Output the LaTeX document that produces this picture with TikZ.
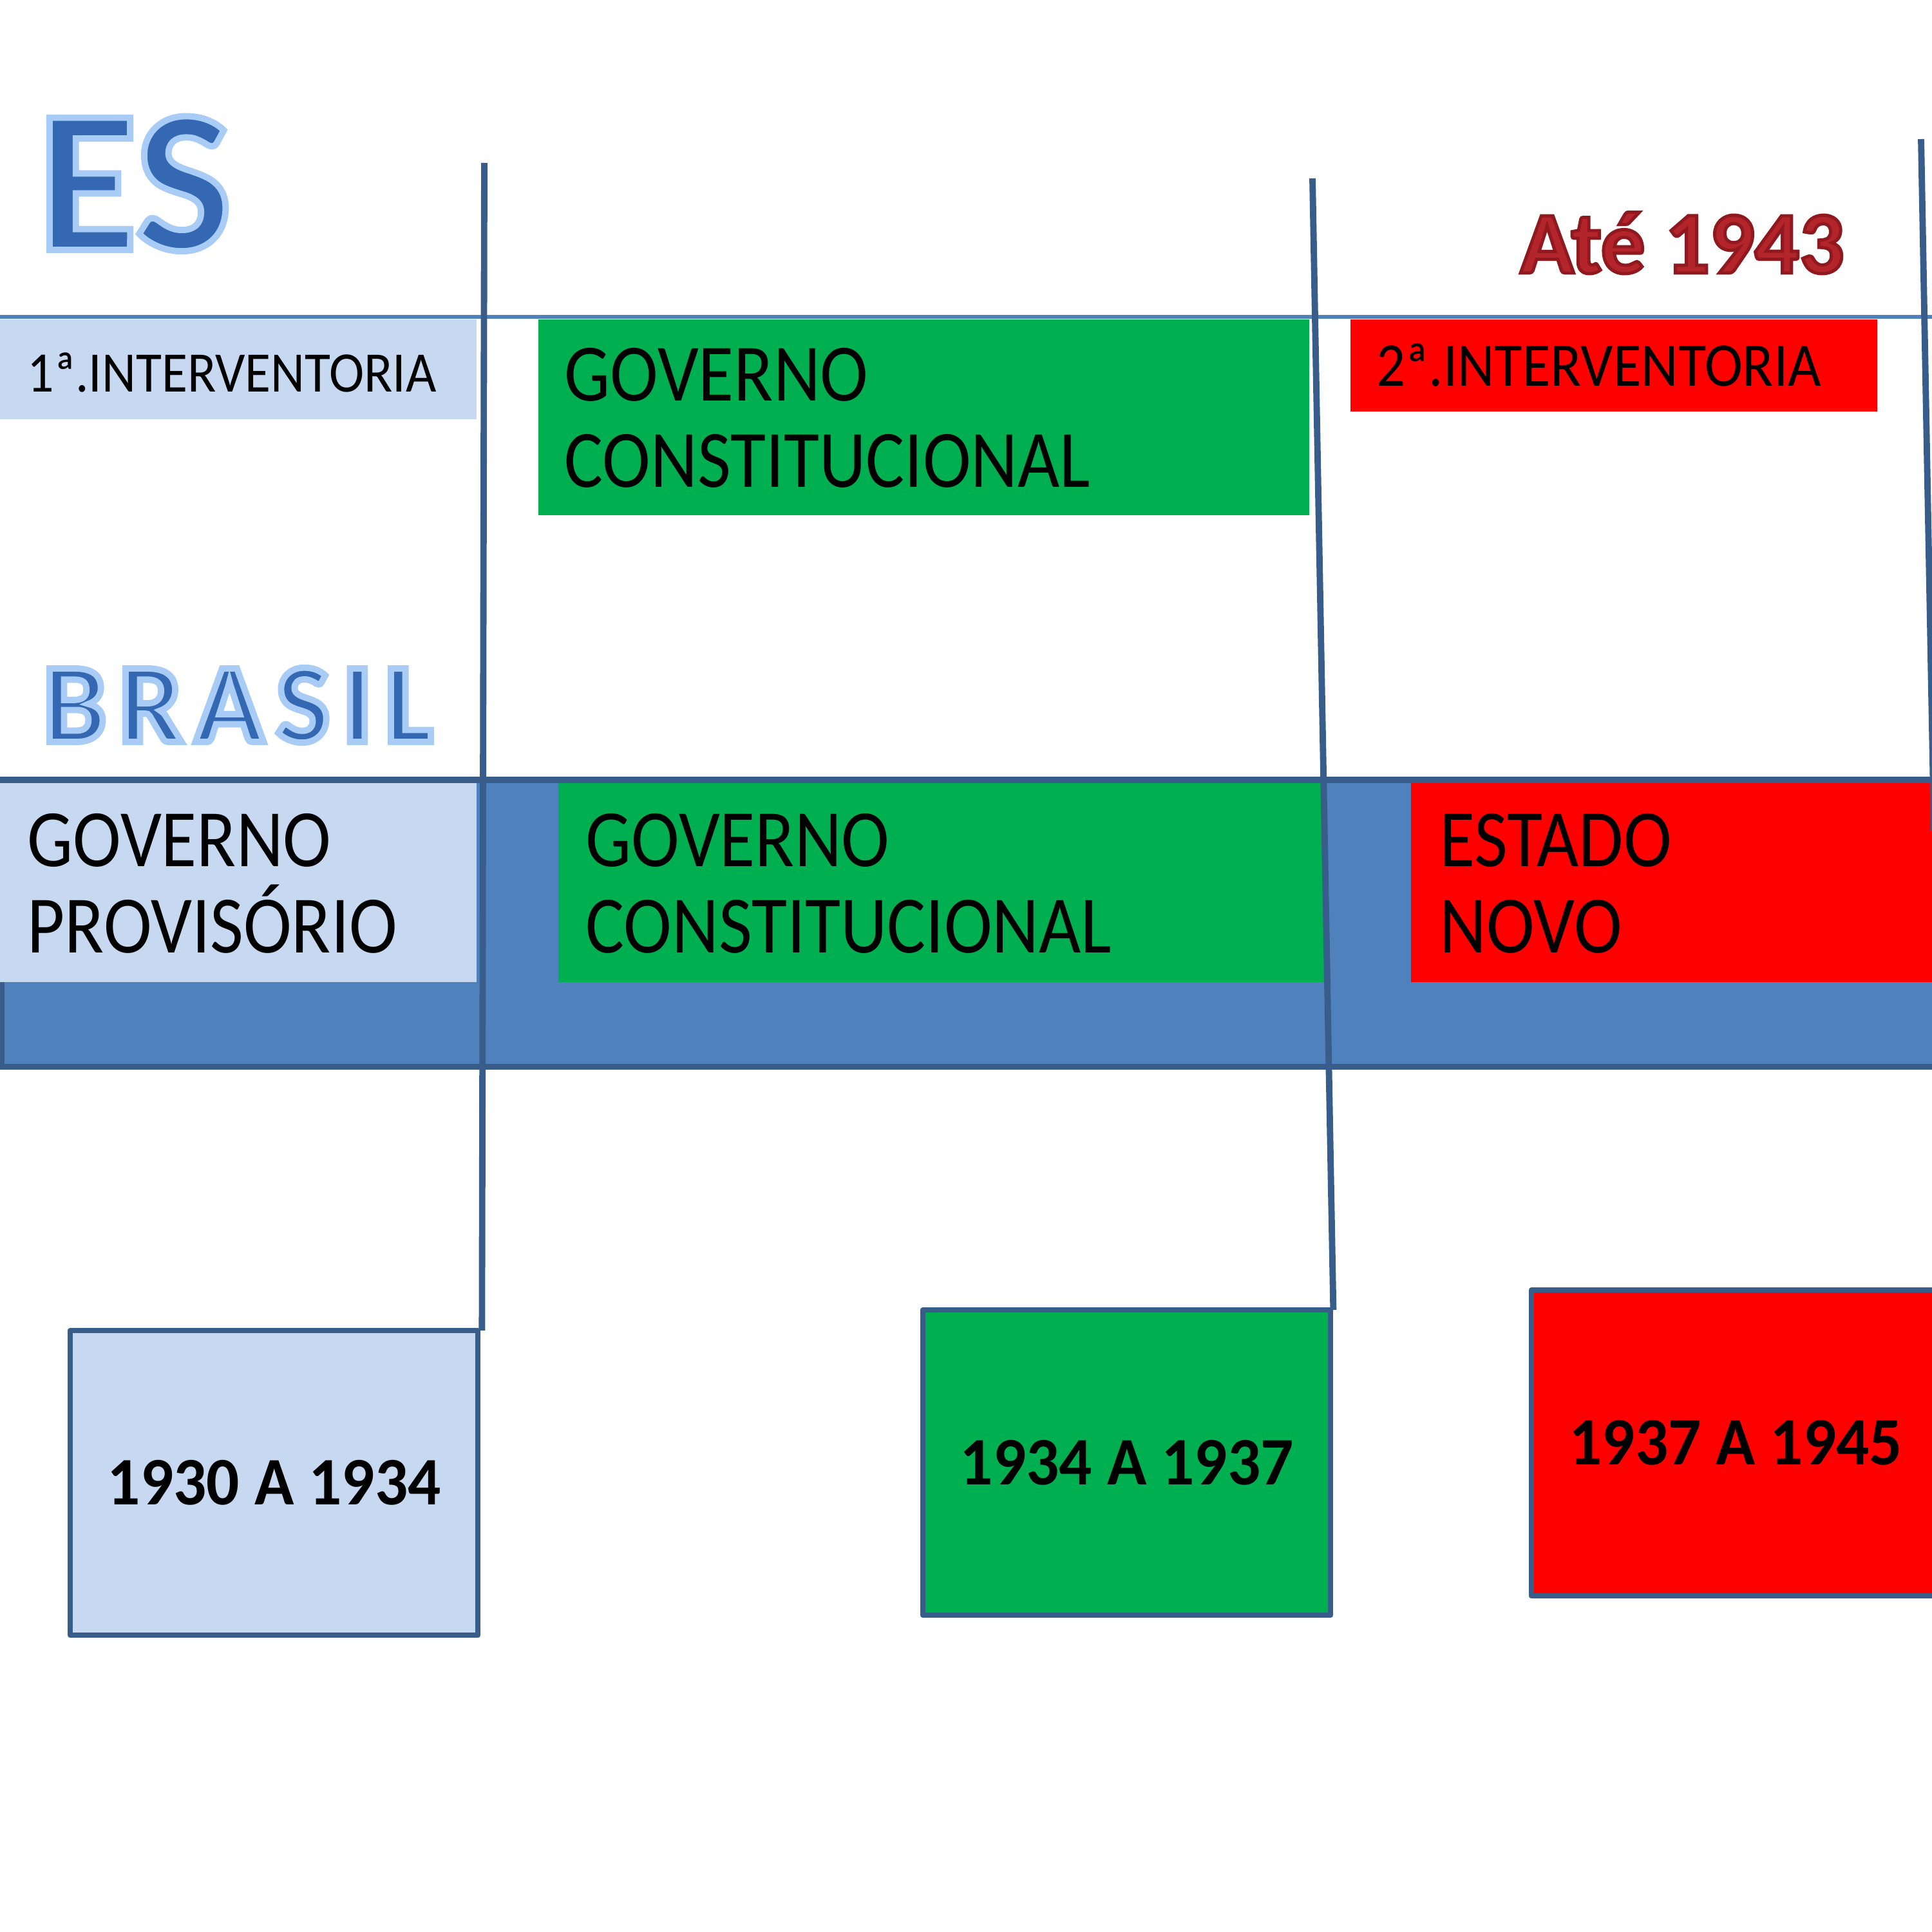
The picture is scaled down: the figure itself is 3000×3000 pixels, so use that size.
\documentclass[tikz,border=0pt]{standalone}
\usepackage{fontspec}
\setmainfont{Carlito}
\newfontfamily\cond{Carlito}[FakeStretch=0.89]
\newfontfamily\smallcond{Carlito}[FakeStretch=0.92]
\newfontfamily\yearfont{Carlito}[FakeStretch=0.96]
\newfontfamily\brasilfont{Carlito}[LetterSpace=11]
\definecolor{bandblue}{HTML}{4F81BD}
\definecolor{darkblue}{HTML}{385D8A}
\definecolor{lightblue}{HTML}{C6D9F1}
\definecolor{govgreen}{HTML}{00B050}
\definecolor{novored}{HTML}{FF0000}
\definecolor{titleblue}{HTML}{3468B2}
\definecolor{titlered}{HTML}{B3242B}
\newcommand\glowon{\special{pdf:literal direct 2 Tr 2.8 w 0.66 0.80 0.96 RG}}
\newcommand\shadeon{\special{pdf:literal direct 2 Tr 1.4 w 0.56 0.10 0.12 RG}}
\newcommand\glowoff{\special{pdf:literal direct 0 Tr}}
\begin{document}
\begin{tikzpicture}[x=0.01cm,y=-0.01cm,
  flatbox/.style={draw=none, inner sep=0pt, outer sep=0pt, anchor=north west},
  yearbox/.style={draw=darkblue, line width=2.3pt, line join=round, inner sep=0pt, outer sep=0pt, anchor=north west},
  vline/.style={draw=darkblue, line width=2.8pt},
  label/.style={anchor=base west, inner sep=0pt, text=black},
  bigtxt/.style={label, font={\cond\fontsize{36}{38}\selectfont}},
  yeartxt/.style={inner sep=0pt, text=black, font={\yearfont\bfseries\fontsize{30}{32}\selectfont}}]
\useasboundingbox (0,0) rectangle (3000,3000);

% ES row
\coordinate (esl) at (0,492);
\coordinate (esr) at (3000,492);
\draw[bandblue, line width=1.7pt] (esl) -- (esr);
\node[flatbox, fill=lightblue, minimum width=7.40cm, minimum height=1.55cm] (es1) at (0,496) {};
\node[flatbox, fill=govgreen, minimum width=11.96cm, minimum height=3.04cm] (esgov) at (836,496) {};
\node[flatbox, fill=novored, minimum width=8.17cm, minimum height=1.43cm] (es2) at (2097,496) {};

% Brasil band
\node[draw=darkblue, fill=bandblue, line width=2.6pt, inner sep=0pt, outer sep=0pt, anchor=north west,
      minimum width=30.10cm, minimum height=4.45cm] (band) at (2,1211) {};
\node[flatbox, fill=lightblue, minimum width=7.40cm, minimum height=3.09cm] (brprov) at (0,1216) {};
\node[flatbox, fill=govgreen, minimum width=11.90cm, minimum height=3.09cm] (brgov) at (867,1216) {};
\node[flatbox, fill=novored, minimum width=8.20cm, minimum height=3.09cm] (brnovo) at (2191,1216) {};

% year boxes
\node[yearbox, fill=lightblue, minimum width=6.33cm, minimum height=4.73cm] (y1930) at (109,2066) {};
\node[yearbox, fill=govgreen, minimum width=6.33cm, minimum height=4.74cm] (y1934) at (1433,2034) {};
\node[yearbox, fill=novored, minimum width=6.34cm, minimum height=4.75cm] (y1937) at (2378,2003) {};

% vertical dividers
\coordinate (t1) at (752,253);
\coordinate (t2) at (2038,277);
\coordinate (t3) at (2983,216);
\coordinate (b3) at (3003,1290);
\draw[vline] (t1) -- ([xshift=0.06cm]y1930.north east);
\draw[vline] (t2) -- ([xshift=0.04cm]y1934.north east);
\draw[vline] (t3) -- (b3);

% texts
\node[label, font={\smallcond\fontsize{25.3}{27}\selectfont}] (es1t) at (42,608) {1ª.INTERVENTORIA};
\node[bigtxt] (esgov1) at (876,622) {GOVERNO};
\node[bigtxt] (esgov2) at (876,756) {CONSTITUCIONAL};
\node[label, font={\smallcond\fontsize{27.5}{29}\selectfont}] (es2t) at (2137,599) {2ª.INTERVENTORIA};

\node[bigtxt] (brprov1) at (42,1345) {GOVERNO};
\node[bigtxt] (brprov2) at (42,1479) {PROVISÓRIO};
\node[bigtxt] (brgov1) at (909,1345) {GOVERNO};
\node[bigtxt] (brgov2) at (909,1479) {CONSTITUCIONAL};
\node[bigtxt] (brnovo1) at (2235,1345) {ESTADO};
\node[bigtxt] (brnovo2) at (2235,1479) {NOVO};

\node[yeartxt] (y1930t) at (y1930.center) {1930 A 1934};
\node[yeartxt] (y1934t) at (y1934.center) {1934 A 1937};
\node[yeartxt] (y1937t) at (y1937.center) {1937 A 1945};

% titles
\node[label, text=titleblue, font={\bfseries\fontsize{90}{94}\selectfont}] (es) at (58,388) {\glowon ES\glowoff};
\node[label, text=titleblue, font={\brasilfont\bfseries\fontsize{50}{52}\selectfont}] (brasil) at (66,1152) {\glowon BRASIL\glowoff};
\node[label, text=titlered, font={\bfseries\fontsize{39}{42}\selectfont}] (ate) at (2360,424) {\shadeon Até 1943\glowoff};
\end{tikzpicture}
\end{document}
